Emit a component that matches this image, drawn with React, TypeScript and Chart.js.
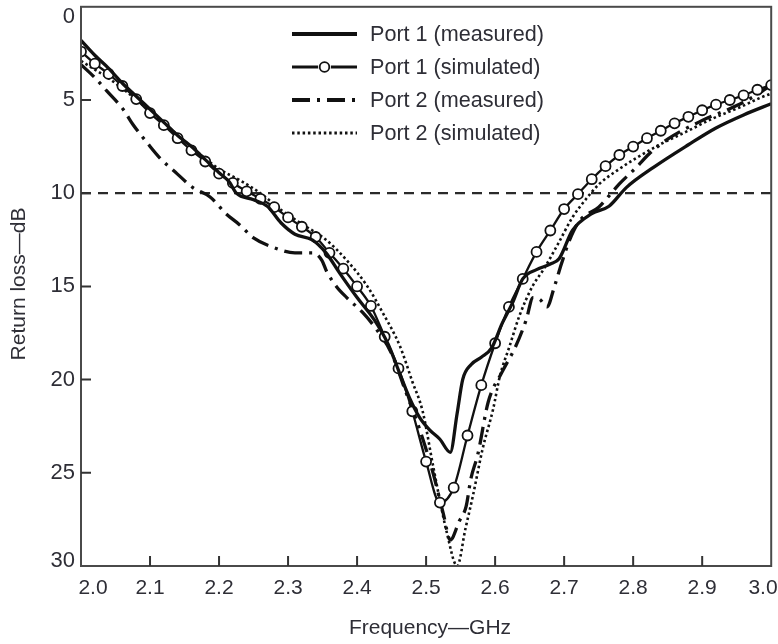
import React, { useEffect, useRef } from "react";
import { Chart, registerables } from "chart.js";

Chart.register(...registerables);

// ---- tick labels ----
const xTicks = [2.0, 2.1, 2.2, 2.3, 2.4, 2.5, 2.6, 2.7, 2.8, 2.9, 3.0];
const yTicks = [0, 5, 10, 15, 20, 25, 30];
const xTitle = "Frequency\u2014GHz";
const yTitle = "Return loss\u2014dB";
const thresholdRL = 10;

// ---- series names ----
const seriesNames = [
  "Port 1 (measured)",
  "Port 1 (simulated)",
  "Port 2 (measured)",
  "Port 2 (simulated)",
];

// ---- Port 1 measured ----
const p1mFreq = [2.0, 2.02, 2.04, 2.06, 2.08, 2.1, 2.12, 2.14, 2.16, 2.18, 2.2, 2.215, 2.225, 2.25, 2.27, 2.29, 2.31, 2.335, 2.355, 2.375, 2.4, 2.425, 2.445, 2.46, 2.475, 2.49, 2.505, 2.52, 2.535, 2.545, 2.553, 2.565, 2.58, 2.595, 2.61, 2.625, 2.64, 2.66, 2.68, 2.693, 2.712, 2.74, 2.765, 2.79, 2.83, 2.88, 2.92, 2.96, 3.0];
const p1mRL = [1.8, 2.6, 3.3, 4.1, 4.8, 5.5, 6.2, 6.9, 7.5, 8.2, 8.9, 9.4, 10.0, 10.35, 10.7, 11.6, 12.2, 12.5, 13.2, 14.3, 15.6, 16.8, 18.1, 19.5, 20.9, 22.0, 22.7, 23.2, 23.9, 21.8, 20.0, 19.2, 18.8, 18.3, 17.0, 15.9, 14.6, 14.1, 13.8, 13.5, 12.0, 11.1, 10.7, 9.7, 8.6, 7.4, 6.5, 5.8, 5.2];

// ---- Port 1 simulated ----
const p1sFreq = [2.0, 2.02, 2.04, 2.06, 2.08, 2.1, 2.12, 2.14, 2.16, 2.18, 2.2, 2.22, 2.24, 2.26, 2.28, 2.3, 2.32, 2.34, 2.36, 2.38, 2.4, 2.42, 2.44, 2.46, 2.48, 2.5, 2.52, 2.54, 2.56, 2.58, 2.6, 2.62, 2.64, 2.66, 2.68, 2.7, 2.72, 2.74, 2.76, 2.78, 2.8, 2.82, 2.84, 2.86, 2.88, 2.9, 2.92, 2.94, 2.96, 2.98, 3.0];
const p1sRL = [2.4, 3.05, 3.6, 4.25, 4.95, 5.7, 6.35, 7.05, 7.7, 8.3, 8.95, 9.45, 9.9, 10.3, 10.75, 11.3, 11.8, 12.35, 13.2, 14.05, 15.0, 16.05, 17.7, 19.4, 21.7, 24.4, 26.6, 25.8, 23.0, 20.3, 18.05, 16.1, 14.6, 13.15, 12.0, 10.85, 10.05, 9.25, 8.55, 7.95, 7.5, 7.05, 6.65, 6.25, 5.9, 5.55, 5.25, 5.0, 4.75, 4.45, 4.2];

// ---- Port 2 measured ----
const p2mFreq = [2.0, 2.02, 2.037, 2.061, 2.075, 2.097, 2.114, 2.139, 2.162, 2.187, 2.21, 2.23, 2.25, 2.278, 2.31, 2.336, 2.349, 2.356, 2.37, 2.385, 2.408, 2.428, 2.45, 2.47, 2.49, 2.51, 2.525, 2.535, 2.548, 2.558, 2.565, 2.575, 2.59, 2.61, 2.63, 2.645, 2.655, 2.665, 2.675, 2.686, 2.696, 2.708, 2.722, 2.75, 2.766, 2.78, 2.805, 2.823, 2.85, 2.9, 2.95, 2.98, 3.0];
const p2mRL = [3.1, 3.8, 4.5, 5.5, 6.3, 7.35, 8.1, 8.95, 9.7, 10.2, 11.1, 11.7, 12.4, 12.9, 13.2, 13.2, 13.6, 14.2, 15.0, 15.6, 16.4, 17.3, 18.6, 20.6, 22.6, 25.0, 27.2, 28.6, 27.6, 26.8, 25.3, 24.0, 21.2, 19.6, 18.2, 16.8, 15.6, 15.7, 16.1, 15.0, 13.8, 12.5, 11.5, 10.75, 10.1, 9.5, 8.6, 7.9, 7.1, 6.1, 5.3, 4.7, 4.2];

// ---- Port 2 simulated ----
const p2sFreq = [2.0, 2.05, 2.1, 2.15, 2.2, 2.23, 2.26, 2.29, 2.32, 2.355, 2.385, 2.415, 2.437, 2.462, 2.48, 2.495, 2.51, 2.53, 2.545, 2.557, 2.568, 2.582, 2.597, 2.607, 2.621, 2.635, 2.654, 2.67, 2.69, 2.712, 2.732, 2.751, 2.776, 2.805, 2.838, 2.877, 2.915, 2.954, 2.983, 3.0];
const p2sRL = [2.9, 4.1, 5.6, 7.2, 8.7, 9.3, 10.0, 10.9, 11.65, 12.5, 13.6, 15.0, 16.4, 18.2, 20.1, 21.7, 24.6, 28.2, 30.0, 28.0, 26.2, 23.7, 21.6, 19.8, 18.2, 16.6, 15.0, 14.1, 12.8, 11.3, 10.3, 9.5, 8.8, 8.1, 7.4, 6.7, 6.0, 5.4, 4.9, 4.65];

const FONT = '"Liberation Sans", Arial, Helvetica, sans-serif';
const TEXT = "#2e2e36";

const toPts = (xs: number[], ys: number[]) => xs.map((x, i) => ({ x, y: ys[i] }));

const overlayPlugin = {
  id: "overlay",
  afterDraw(chart: any) {
    const { ctx, chartArea } = chart;
    const { left, right, top, bottom } = chartArea;
    const xs = chart.scales.x;
    const ys = chart.scales.y;
    ctx.save();
    // frame
    ctx.strokeStyle = "#4a4a4a";
    ctx.lineWidth = 2;
    ctx.setLineDash([]);
    ctx.strokeRect(left, top, right - left, bottom - top);
    // inward ticks
    ctx.strokeStyle = "#333";
    ctx.lineWidth = 2;
    ctx.beginPath();
    xTicks.forEach((v) => {
      const px = xs.getPixelForValue(v);
      if (px <= left + 2 || px >= right - 2) return;
      ctx.moveTo(px, bottom);
      ctx.lineTo(px, bottom - 10);
    });
    yTicks.forEach((v) => {
      const py = ys.getPixelForValue(v);
      if (py <= top + 2 || py >= bottom - 2) return;
      ctx.moveTo(left, py);
      ctx.lineTo(left + 10, py);
    });
    ctx.stroke();
    // tick labels
    ctx.fillStyle = TEXT;
    ctx.font = `21px ${FONT}`;
    ctx.textBaseline = "middle";
    ctx.textAlign = "center";
    xTicks.forEach((v) => {
      const px = Math.min(Math.max(xs.getPixelForValue(v), 93), 763);
      ctx.fillText(v.toFixed(1), px, 588);
    });
    ctx.font = `22px ${FONT}`;
    ctx.textAlign = "right";
    yTicks.forEach((v) => {
      const py = Math.min(Math.max(ys.getPixelForValue(v), 17), 561);
      ctx.fillText(String(v), 75, py);
    });
    // axis titles
    ctx.font = `21px ${FONT}`;
    ctx.textAlign = "center";
    ctx.fillText(xTitle, 430, 628);
    ctx.save();
    ctx.translate(19, 284);
    ctx.rotate(-Math.PI / 2);
    ctx.fillText(yTitle, 0, 0);
    ctx.restore();
    // legend
    const ds = chart.data.datasets;
    ctx.font = `21.6px ${FONT}`;
    ctx.textAlign = "left";
    for (let i = 0; i < 4; i++) {
      const d = ds[i];
      const y = 34 + i * 33;
      ctx.strokeStyle = "#111";
      ctx.lineWidth = (d.borderWidth || 2) + 0.5;
      ctx.setLineDash(d.borderDash || []);
      ctx.lineDashOffset = 0;
      ctx.beginPath();
      ctx.moveTo(292, y);
      ctx.lineTo(357, y);
      ctx.stroke();
      ctx.setLineDash([]);
      if (d.pointRadius && d.pointRadius > 0) {
        ctx.fillStyle = "#fff";
        ctx.beginPath();
        ctx.arc(324.5, y, 6.5, 0, Math.PI * 2);
        ctx.fill();
        ctx.lineWidth = 1.8;
        ctx.beginPath();
        ctx.arc(324.5, y, 4.8, 0, Math.PI * 2);
        ctx.fill();
        ctx.stroke();
      }
      ctx.fillStyle = TEXT;
      ctx.fillText(seriesNames[i], 370, y + 1);
    }
    ctx.restore();
  },
};

export default function App() {
  const ref = useRef<HTMLCanvasElement>(null);
  useEffect(() => {
    document.body.style.margin = "0";
    const canvas = ref.current;
    if (!canvas) return;
    const chart = new Chart(canvas, {
      type: "line",
      data: {
        datasets: [
          {
            label: seriesNames[0],
            data: toPts(p1mFreq, p1mRL),
            borderColor: "#111",
            borderWidth: 3.3,
            pointRadius: 0,
            cubicInterpolationMode: "monotone",
          },
          {
            label: seriesNames[1],
            data: toPts(p1sFreq, p1sRL),
            borderColor: "#111",
            borderWidth: 2.3,
            pointRadius: 5,
            pointBackgroundColor: "#fff",
            pointBorderColor: "#111",
            pointBorderWidth: 1.8,
            cubicInterpolationMode: "monotone",
          },
          {
            label: seriesNames[2],
            data: toPts(p2mFreq, p2mRL),
            borderColor: "#111",
            borderWidth: 3.3,
            borderDash: [18, 7, 3, 7],
            pointRadius: 0,
            cubicInterpolationMode: "monotone",
          },
          {
            label: seriesNames[3],
            data: toPts(p2sFreq, p2sRL),
            borderColor: "#111",
            borderWidth: 2.6,
            borderDash: [2.5, 2.8],
            pointRadius: 0,
            cubicInterpolationMode: "monotone",
          },
          {
            label: "threshold",
            data: [
              { x: xTicks[0], y: thresholdRL },
              { x: xTicks[xTicks.length - 1], y: thresholdRL },
            ],
            borderColor: "#2a2a2a",
            borderWidth: 2.2,
            borderDash: [10, 7],
            pointRadius: 0,
          },
        ],
      },
      options: {
        animation: false,
        responsive: false,
        maintainAspectRatio: false,
        layout: { padding: { top: 4, right: 6, left: 0, bottom: 0 } },
        plugins: { legend: { display: false }, tooltip: { enabled: false } },
        scales: {
          x: {
            type: "linear",
            min: 2.0,
            max: 3.0,
            grid: { display: false },
            border: { display: false },
            ticks: { display: false },
            afterFit: (s: any) => {
              s.height = 78;
            },
          },
          y: {
            type: "linear",
            reverse: true,
            min: 0,
            max: 30,
            grid: { display: false },
            border: { display: false },
            ticks: { display: false },
            afterFit: (s: any) => {
              s.width = 81;
            },
          },
        },
      },
      plugins: [overlayPlugin],
    } as any);
    return () => chart.destroy();
  }, []);
  return <canvas ref={ref} width={778} height={644} style={{ display: "block" }} />;
}
